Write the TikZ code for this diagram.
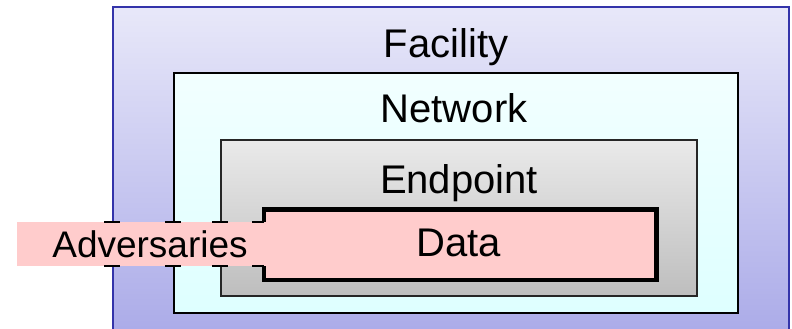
\documentclass[tikz,border=0pt]{standalone}
\usepackage{fontspec}
\setmainfont{Liberation Sans}
\usetikzlibrary{shadings}
\definecolor{facilityline}{RGB}{52,52,170}
\definecolor{facilitytop}{RGB}{232,232,249}
\definecolor{facilitybot}{RGB}{170,170,232}
\definecolor{nettop}{RGB}{242,255,255}
\definecolor{netbot}{RGB}{222,255,255}
\definecolor{endtop}{RGB}{234,234,234}
\definecolor{endbot}{RGB}{190,190,190}
\definecolor{datafill}{RGB}{255,204,204}
\tikzset{
  layer/.style={rectangle, anchor=north west, inner sep=0pt},
  facilitybox/.style={layer, draw=facilityline, line width=2pt,
    top color=facilitytop, bottom color=facilitybot},
  netbox/.style={layer, draw=black, line width=2pt,
    top color=nettop, bottom color=netbot},
  endbox/.style={layer, draw=black!85, line width=1.6pt,
    top color=endtop, bottom color=endbot},
  datafillbox/.style={layer, fill=datafill},
  title/.style={font=\fontsize{40}{40}\selectfont, anchor=base, inner sep=0pt},
  advtext/.style={font=\fontsize{37}{37}\selectfont, anchor=base, inner sep=0pt},
  tick/.style={line width=1.8pt, black},
  dataedge/.style={line width=4.5pt, black, line join=miter}
}
\begin{document}
\begin{tikzpicture}[x=1pt, y=-1pt]
  \useasboundingbox (0,0) rectangle (792,329);
  \clip (0,0) rectangle (792,329);

  % nested layers
  \node[facilitybox, minimum width=676pt, minimum height=332pt] (facility) at (112,6) {};
  \node[netbox, minimum width=564pt, minimum height=240pt] (network) at (173,72) {};
  \node[endbox, minimum width=476pt, minimum height=156pt] (endpoint) at (220,139) {};
  \node[datafillbox, minimum width=392pt, minimum height=70pt] (data) at (264,209.5) {};

  % layer titles
  \node[title] (tfac) at (446,57) {Facility};
  \node[title] (tnet) at (454,122) {Network};
  \node[title] (tend) at (459,193) {Endpoint};

  % adversary band crossing the layers
  \node[layer, fill=datafill, minimum width=260pt, minimum height=44pt] (adv) at (17,222) {};

  % data outline, open where the band enters
  \draw[dataedge] (data.north west |- adv.north) -- (data.north west) -- (data.north east)
    -- (data.south east) -- (data.south west) -- (data.south west |- adv.south);
  \node[title] (tdata) at (459,256) {Data};

  % cut marks where the band crosses each boundary
  \foreach \xx in {112,173,220} {
    \draw[tick] (\xx-8,222) -- (\xx+8,222);
    \draw[tick] (\xx-8,266) -- (\xx+8,266);
  }
  \draw[tick] (252,222) -- (264,222);
  \draw[tick] (252,266) -- (264,266);

  \node[advtext] (tadv) at (150,257) {Adversaries};
\end{tikzpicture}
\end{document}
